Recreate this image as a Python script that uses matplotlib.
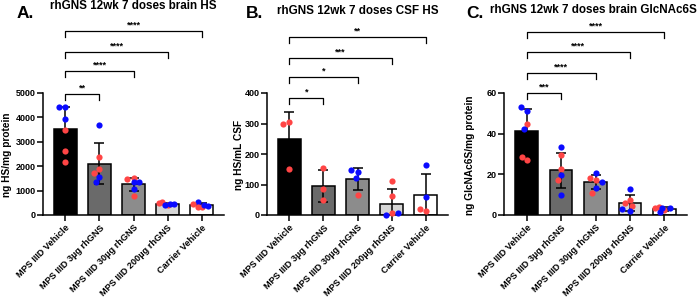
import numpy as np
import matplotlib
matplotlib.use("Agg")
import matplotlib.pyplot as plt

plt.rcParams['font.family'] = ['Liberation Sans', 'DejaVu Sans']

groups = ["MPS IIID Vehicle", "MPS IIID 3µg rhGNS", "MPS IIID 30µg rhGNS",
          "MPS IIID 200µg rhGNS", "Carrier Vehicle"]

# Panel A: brain HS (ng HS/mg protein); sex codes: 'F' red, 'M' blue
a_vals = [[4410, 4410, 3945, 3466, 2630, 2164],
          [3685, 2397, 1890, 1740, 1575, 1370],
          [1520, 1466, 1370, 1342, 1068, 795],
          [430, 530, 470, 500, 420, 470],
          [330, 520, 370, 440, 330, 400]]
a_sex = [list("MMMFFF"), list("MFFFMM"), list("FFMMMF"), list("FFMFMM"), list("FMMFFM")]

# Panel B: CSF HS (ng HS/mL CSF)
b_vals = [[304, 298, 150],
          [153, 84, 48],
          [141, 146, 122, 67],
          [110, 62, 8, 0, 5],
          [163, 60, 14, 19]]
b_sex = [list("FFF"), list("FFF"), list("MMMF"), list("FFFMM"), list("MMFF")]

# Panel C: brain GlcNAc6S (ng GlcNAc6S/mg protein)
c_vals = [[51.3, 52.9, 44.9, 42.3, 27.0, 28.7],
          [33.3, 29.5, 22.8, 19.8, 17.2, 9.7],
          [17.0, 18.2, 20.5, 16.1, 13.4, 11.0],
          [12.8, 7.4, 5.7, 4.6, 3.0, 1.8],
          [2.5, 3.8, 3.3, 3.6, 1.6, 3.3]]
c_sex = [list("MMFMFF"), list("MFFMFM"), list("FFMMMF"), list("MFFFMM"), list("FFMFMM")]

a_stars = ["**", "****", "****", "****"]
b_stars = ["*", "*", "***", "**"]
c_stars = ["***", "****", "****", "****"]

a_ticks = [0, 1000, 2000, 3000, 4000, 5000]
b_ticks = [0, 100, 200, 300, 400]
c_ticks = [0, 20, 40, 60]

bar_colors = ["#000000", "#6a6a6a", "#8c8c8c", "#d6d6d6", "#ffffff"]
sex_colors = {"F": "#ff4545", "M": "#0a0aff"}

W, H = 700, 299
fig = plt.figure(figsize=(W / 100, H / 100), dpi=100)


def px_axes(x0, x1, ybot, ytop):
    return fig.add_axes([x0 / W, (H - ybot) / H, (x1 - x0) / W, (ybot - ytop) / H])


def panel(x0, x1, top_px, ybot, vals, sex, ticks, stars, br_px, leg, ylabel,
          title, title_x, title_y, letter, letter_x, ylabel_x):
    ax = px_axes(x0, x1, ybot, top_px)
    pxper = (ybot - 93) / ticks[-1]
    ymax = (ybot - top_px) / pxper
    ax.set_ylim(0, ymax)
    ax.set_xlim(-0.66, 4.66)
    n = len(vals)
    means = [np.mean(v) for v in vals]
    sds = [np.std(v, ddof=1) for v in vals]
    xs = np.arange(n)
    ax.bar(xs, means, width=0.66, color=bar_colors, edgecolor="black", linewidth=1.1, zorder=2)
    ax.errorbar(xs, means, yerr=sds, fmt="none", ecolor="black", elinewidth=1.1,
                capsize=3.6, capthick=1.1, zorder=3)
    trans = ax.transData
    inv = trans.inverted()
    diam = 6.0
    cand = [0.0]
    for k in range(1, 19):
        cand += [-0.5 * k, 0.5 * k]
    for i in range(n):
        placed = []
        for j, v in enumerate(vals[i]):
            px0, py = trans.transform((i, v))
            best, bestd = 0.0, -1.0
            for c in cand:
                dmin = min([np.hypot(px0 + c - qx, py - qy) for qx, qy in placed] or [99])
                if dmin >= diam:
                    best = c
                    break
                if dmin > bestd + 0.5:
                    best, bestd = c, dmin
            placed.append((px0 + best, py))
            xd = inv.transform((px0 + best, py))[0]
            ax.scatter([xd], [v], s=20, color=sex_colors[sex[i][j]], linewidths=0,
                       zorder=4, clip_on=False)
    for s in ["top", "right"]:
        ax.spines[s].set_visible(False)
    ax.spines["left"].set_bounds(0, ticks[-1])
    ax.spines["left"].set_linewidth(1.1)
    ax.spines["bottom"].set_linewidth(1.1)
    ax.set_yticks(ticks)
    ax.set_yticklabels([str(t) for t in ticks], fontsize=6.5, fontweight="bold")
    ax.tick_params(axis="y", length=4, width=1.1, pad=1.5)
    ax.tick_params(axis="x", length=4, width=1.1, pad=2)
    ax.set_xticks(xs)
    ax.set_xticklabels(groups, rotation=45, ha="right", rotation_mode="anchor",
                       fontsize=6.6, fontweight="bold")
    for k, (yp, st) in enumerate(zip(br_px, stars)):
        yb = (ybot - yp) / pxper
        yl = yb - leg / pxper
        ax.plot([0, 0, k + 1, k + 1], [yl, yb, yb, yl], color="black", lw=0.9,
                clip_on=False, zorder=5)
        ax.text((k + 1) / 2, yb + 1.0 / pxper, st, ha="center", va="bottom",
                fontsize=6.5, fontweight="bold")
    fig.text(ylabel_x / W, 1 - 155 / H, ylabel, rotation=90, ha="center", va="center",
             fontsize=7.3, fontweight="bold")
    fig.text(title_x / W, 1 - title_y / H, title, ha="left", va="center", fontsize=8.4,
             fontweight="bold")
    fig.text(letter_x / W, 1 - 14 / H, letter, ha="left", va="center", fontsize=12.5,
             fontweight="bold")
    return ax


# bracket horizontal rows (figure pixel rows)
a_br = [94, 71, 52, 31]
b_br = [98, 77, 58, 37]
c_br = [93, 73, 52, 32]

panel(43, 224, 25, 215, a_vals, a_sex, a_ticks, a_stars, a_br, 6,
      "ng HS/mg protein", "rhGNS 12wk 7 doses brain HS", 50, 6, "A.", 17, 7)
panel(267, 448, 25, 215, b_vals, b_sex, b_ticks, b_stars, b_br, 6,
      "ng HS/mL CSF", "rhGNS 12wk 7 doses CSF HS", 277, 11, "B.", 246, 239)
panel(504, 687, 25, 215, c_vals, c_sex, c_ticks, c_stars, c_br, 6,
      "ng GlcNAc6S/mg protein", "rhGNS 12wk 7 doses brain GlcNAc6S", 490, 10, "C.", 466, 470)

fig.savefig("out.png", dpi=100)
